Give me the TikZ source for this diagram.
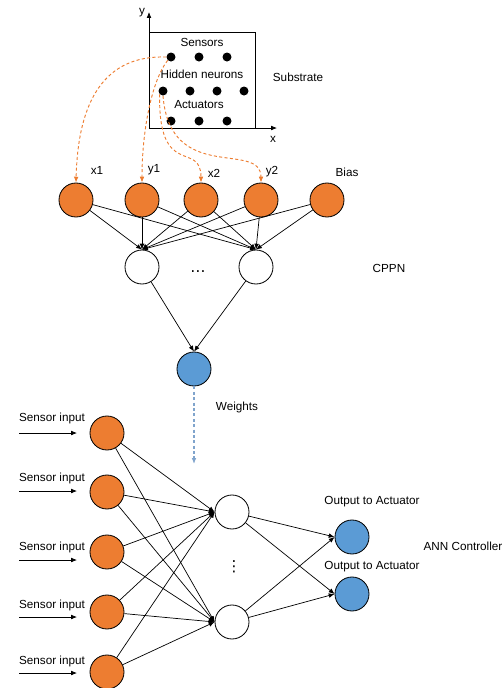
\documentclass[tikz,border=0pt]{standalone}
\usepackage{fontspec}
\setmainfont{Liberation Sans}
\newfontfamily\symfont{DejaVu Sans}
\usetikzlibrary{arrows.meta, positioning}
\definecolor{neuronorange}{RGB}{237,125,49}
\definecolor{neuronblue}{RGB}{91,155,213}
\definecolor{weightblue}{RGB}{128,164,204}

\begin{document}
\begin{tikzpicture}[
    x=0.03cm, y=-0.03cm,
    font=\fontsize{10}{12}\selectfont,
    neuron/.style={circle, draw, line width=0.7pt, minimum size=1.02cm, inner sep=0pt},
    inn/.style={neuron, fill=neuronorange},
    hid/.style={neuron, fill=white},
    outn/.style={neuron, fill=neuronblue},
    dot/.style={circle, fill=black, minimum size=0.27cm, inner sep=0pt},
    arr/.style={-{Latex[length=5pt,width=4pt]}, line width=0.6pt},
    cparr/.style={-{Latex[length=5pt,width=4pt]}, neuronorange, dash pattern=on 2.6pt off 2pt, line width=0.8pt},
    wtarr/.style={-{Latex[length=5pt,width=4pt]}, weightblue, dash pattern=on 2.6pt off 2pt, line width=1pt},
    txt/.style={inner sep=1pt},
    ellip/.style={inner sep=0pt, font=\symfont\fontsize{13}{13}\selectfont},
  ]
  \useasboundingbox (0,0) rectangle (503,688);
  % substrate
  \coordinate (o) at (149,128);
  \draw[arr] (o) -- (149,12) coordinate (ya);
  \draw[arr] (o) -- (277,128) coordinate (xa);
  \node[txt] at (142,13) {y};
  \node[txt] at (273,139) {x};
  \draw[line width=0.7pt] (149,32) rectangle (255,128);
  \node[txt] at (202,42) {Sensors};
  \node[txt] at (202,74) {Hidden neurons};
  \node[txt] at (199,105) {Actuators};
  \node[txt] at (298,77) {Substrate};
  \foreach \n/\x in {1/171,2/199,3/227} {
    \node[dot] (s\n) at (\x,57) {};
    \node[dot] (a\n) at (\x,121) {};
  }
  \foreach \n/\x in {1/163,2/190,3/217,4/244}
    \node[dot] (h\n) at (\x,91) {};
  % CPPN
  \foreach \n/\x in {1/76,2/142,3/201,4/261,5/327}
    \node[inn] (c\n) at (\x,200) {};
  \node[txt] at (97,170) {x1};
  \node[txt] at (154,170) {y1};
  \node[txt] at (214,173) {x2};
  \node[txt] at (272,172) {y2};
  \node[txt] at (347,172) {Bias};
  \node[hid] (ch1) at (142,267) {};
  \node[hid] (ch2) at (256,267) {};
  \node[ellip] at (198,272) {…};
  \node[txt] at (389,268) {CPPN};
  \node[outn] (co) at (194,369) {};
  \node[txt] at (237,407) {Weights};
  \foreach \i in {1,...,5}
    \foreach \h in {1,2}
      \draw[arr] (c\i) -- (ch\h.north);
  \foreach \h in {1,2}
    \draw[arr] (ch\h) -- (co.north);
  % queries from the substrate
  \draw[cparr] (s1.west) .. controls (105,55) and (78,100) .. (c1.north);
  \draw[cparr] (s1.south west) .. controls (152,80) and (142,130) .. (c2.north);
  \draw[cparr] (h1.south west) .. controls (158,180) and (201,140) .. (c3.north);
  \draw[cparr] (h1.south) .. controls (170,185) and (261,140) .. (c4.north);
  \coordinate (wt) at (194,464);
  \draw[wtarr] (co) -- (wt);
  % ANN controller
  \foreach \n/\y/\ly/\ay in {1/433/418/433,2/492/478/491,3/552/547/560,4/612/605/617,5/672/661/673} {
    \node[inn] (ai\n) at (107,\y) {};
    \node[txt] at (52,\ly) {Sensor input};
    \coordinate (sa\n) at (19,\ay);
    \coordinate (sb\n) at (77,\ay);
    \draw[arr] (sa\n) -- (sb\n);
  }
  \node[hid] (ah1) at (232,512) {};
  \node[hid] (ah2) at (232,622) {};
  \node[ellip] at (234,567) {⋮};
  \node[outn] (ao1) at (352,537) {};
  \node[outn] (ao2) at (352,594) {};
  \node[txt] at (372,502) {Output to Actuator};
  \node[txt] at (372,567) {Output to Actuator};
  \node[txt] at (463,546) {ANN Controller};
  \foreach \i in {1,...,5}
    \foreach \h in {1,2}
      \draw[arr] (ai\i) -- (ah\h.west);
  \foreach \h in {1,2}
    \foreach \o in {1,2}
      \draw[arr] (ah\h) -- (ao\o.west);
\end{tikzpicture}
\end{document}
